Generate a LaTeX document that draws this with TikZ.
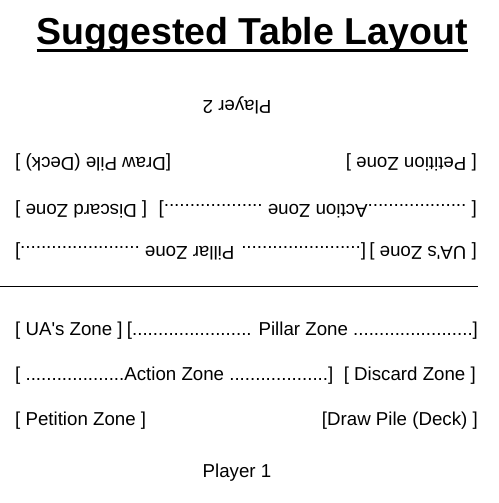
\documentclass[tikz,border=0pt]{standalone}
\usepackage{fontspec}
\setmainfont{Liberation Sans}
\newcommand{\zonefont}{\fontsize{18.7}{22}\selectfont}
\newcommand{\headfont}{\fontsize{37.5}{40}\selectfont\bfseries}
\tikzset{
    zone/.style={font=\zonefont, inner sep=0pt},
    flip/.style={zone, rotate=180},
}
\begin{document}
\begin{tikzpicture}[x=1pt,y=-1pt]
    \useasboundingbox (0,0) rectangle (498,503);
    
    % title
    \node[font=\headfont, inner sep=0pt, anchor=base] (title) at (252.2,44.3) {Suggested Table Layout};
    \draw[line width=3.5pt] ([yshift=-6pt]title.base west) -- ([yshift=-6pt]title.base east);
    
    % player 2 (upside down)
    \node[flip, anchor=base] (p2) at (237,100) {Player 2};
    \node[flip, anchor=base west] (petition2) at (477,157.5) {[ Petition Zone ]};
    \node[flip, anchor=base east] (deck2) at (15,157.5) {[Draw Pile (Deck) ]};
    \node[flip, anchor=base west] (action2) at (477,204) {[ ...................Action Zone ...................]};
    \node[flip, anchor=base east] (discard2) at (15,204) {[ Discard Zone ]};
    \node[flip, anchor=base west] (ua2) at (477,246) {[ UA\textquotesingle s Zone ]};
    \node[flip, anchor=base east] (pillar2) at (15,246) {[....................... Pillar Zone .......................]};
    
    \draw[line width=1.2pt] (0,286.7) -- (477.5,286.7);
    
    % player 1
    \node[zone, anchor=base west] (ua1) at (15,335) {[ UA\textquotesingle s Zone ]};
    \node[zone, anchor=base east] (pillar1) at (478,335) {[....................... Pillar Zone .......................]};
    \node[zone, anchor=base west] (action1) at (15,380) {[ ...................Action Zone ...................]};
    \node[zone, anchor=base east] (discard1) at (476,380) {[ Discard Zone ]};
    \node[zone, anchor=base west] (petition1) at (15,425) {[ Petition Zone ]};
    \node[zone, anchor=base east] (deck1) at (478,425) {[Draw Pile (Deck) ]};
    \node[zone, anchor=base] (p1) at (237,477) {Player 1};
    
\end{tikzpicture}
\end{document}
